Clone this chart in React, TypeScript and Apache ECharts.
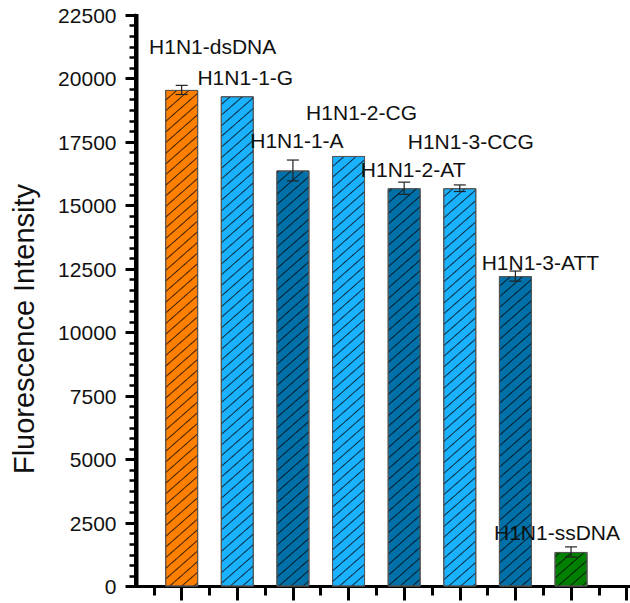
import { useEffect, useRef } from "react";
import * as echarts from "echarts";

const categories = [
  "H1N1-dsDNA",
  "H1N1-1-G",
  "H1N1-1-A",
  "H1N1-2-CG",
  "H1N1-2-AT",
  "H1N1-3-CCG",
  "H1N1-3-ATT",
  "H1N1-ssDNA",
];
const positions = [1, 2, 3, 4, 5, 6, 7, 8];
const intensity = [19550, 19300, 16380, 16950, 15680, 15680, 12220, 1360];
const errors = [180, 0, 410, 0, 240, 130, 200, 200];
const majorXTicks = [1, 2, 3, 4, 5, 6, 7, 8, 9];
const minorXTicks = [0.5, 1.5, 2.5, 3.5, 4.5, 5.5, 6.5, 7.5, 8.5];
const xMin = 0.17;
const xMax = 9.06;
const yMax = 22500;
const yStep = 2500;

// styles / layout (not data)
const barColors = ["#FF8000", "#1AB2FF", "#0070A8", "#1AB2FF", "#0070A8", "#1AB2FF", "#0070A8", "#008000"];
const labelOffsets = [
  [31, -33],
  [8, -8],
  [4, -19],
  [13, -33],
  [9, -8],
  [11, -36],
  [25, -3],
  [-14, -9],
];

const FONT = "'Liberation Sans', Arial, sans-serif";

export default function App() {
  const ref = useRef<HTMLDivElement>(null);
  useEffect(() => {
    if (!ref.current) return;
    const chart = echarts.init(ref.current, null, { renderer: "svg" });
    const decal = {
      symbol: "rect",
      symbolSize: 1,
      dashArrayX: [1, 0],
      dashArrayY: [1, 7],
      rotation: -0.72,
      color: "rgba(0,0,0,0.75)",
    };
    chart.setOption({
      animation: false,
      grid: { left: 135.5, right: 0, top: 15, bottom: 16.5, containLabel: false },
      xAxis: [
        {
          type: "value",
          min: xMin,
          max: xMax,
          axisLine: { show: true, onZero: false, lineStyle: { color: "#000", width: 3 } },
          axisTick: { show: true, length: 14, customValues: majorXTicks, lineStyle: { color: "#000", width: 3 } },
          axisLabel: { show: false },
          splitLine: { show: false },
        },
        {
          type: "value",
          min: xMin,
          max: xMax,
          position: "bottom",
          axisLine: { show: false, onZero: false },
          axisTick: { show: true, length: 9, customValues: minorXTicks, lineStyle: { color: "#000", width: 3 } },
          axisLabel: { show: false },
          splitLine: { show: false },
        },
      ],
      yAxis: {
        type: "value",
        min: 0,
        max: yMax,
        interval: yStep,
        axisLine: { show: true, lineStyle: { color: "#000", width: 3 } },
        axisTick: { show: true, length: 10, lineStyle: { color: "#000", width: 3 } },
        minorTick: { show: true, splitNumber: 6, length: 6, lineStyle: { color: "#000", width: 2.5 } },
        axisLabel: {
          margin: 19,
          fontSize: 21,
          fontFamily: FONT,
          color: "#111",
          formatter: (v: number) => String(v),
        },
        splitLine: { show: false },
      },
      graphic: [
        {
          id: "ytitle",
          type: "text",
          x: 24,
          y: 329,
          rotation: Math.PI / 2,
          style: {
            text: "Fluorescence Intensity",
            fontSize: 29,
            fontFamily: FONT,
            fill: "#111",
            textAlign: "center",
            textVerticalAlign: "middle",
          },
        },
      ],
      series: [
        {
          type: "bar",
          xAxisIndex: 0,
          barWidth: 33,
          data: positions.map((x, i) => ({
            value: [x, intensity[i]],
            name: categories[i],
            itemStyle: {
              color: barColors[i],
              borderColor: "#555",
              borderWidth: 1,
              decal,
            },
            label: {
              show: true,
              position: "top",
              distance: 0,
              offset: labelOffsets[i],
              formatter: categories[i],
              fontSize: 21,
              fontFamily: FONT,
              color: "#111",
            },
          })),
        },
        {
          type: "custom",
          xAxisIndex: 0,
          data: positions.map((x, i) => [x, intensity[i] - errors[i], intensity[i] + errors[i]]),
          renderItem: (params: any, api: any) => {
            const x = api.value(0);
            const lo = api.value(1);
            const hi = api.value(2);
            if (hi - lo <= 0) return null;
            const p1 = api.coord([x, lo]);
            const p2 = api.coord([x, hi]);
            const hw = 6;
            const style = { stroke: "#222", lineWidth: 1.2 };
            return {
              type: "group",
              children: [
                { type: "line", shape: { x1: p1[0], y1: p1[1], x2: p2[0], y2: p2[1] }, style },
                { type: "line", shape: { x1: p1[0] - hw, y1: p1[1], x2: p1[0] + hw, y2: p1[1] }, style },
                { type: "line", shape: { x1: p2[0] - hw, y1: p2[1], x2: p2[0] + hw, y2: p2[1] }, style },
              ],
            };
          },
          z: 5,
        },
      ],
    });
    // Reinforce the y-axis line as a filled rect at the axis position (computed from the axes).
    const bottom = chart.convertToPixel({ xAxisIndex: 0, yAxisIndex: 0 }, [xMin, 0]) as number[];
    const top = chart.convertToPixel({ xAxisIndex: 0, yAxisIndex: 0 }, [xMin, yMax]) as number[];
    if (bottom && top) {
      chart.setOption({
        graphic: [
          {
            id: "yline",
            type: "rect",
            z: 100,
            shape: { x: bottom[0] - 0.5, y: top[1] - 1, width: 3.5, height: bottom[1] - top[1] + 2.5 },
            style: { fill: "#000" },
            silent: true,
          },
        ],
      });
    }
    return () => chart.dispose();
  }, []);
  return (
    <div
      ref={ref}
      style={{ position: "fixed", left: 0, top: 0, width: 630, height: 603, background: "#fff" }}
    />
  );
}
